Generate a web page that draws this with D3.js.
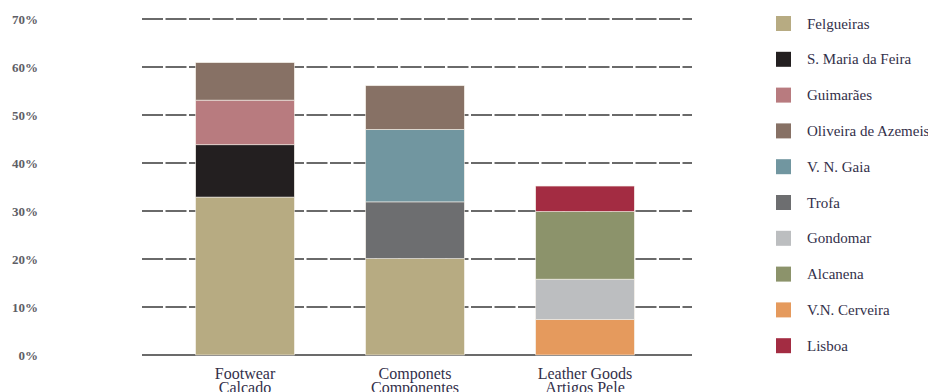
<!DOCTYPE html>
<html>
<head>
<meta charset="utf-8">
<script src="https://cdn.jsdelivr.net/npm/d3@7"></script>
<style>
  body { margin: 0; background: #fff; }
  svg text { font-family: "Liberation Serif", "DejaVu Serif", serif; }
</style>
</head>
<body>
<div id="chart"></div>
<script>
var width = 928;
var height = 392;

// categories (two line labels)
var categories = ["Footwear", "Componets", "Leather Goods"];
var categoryLabels = [["Footwear", "Calcado"], ["Componets", "Componentes"], ["Leather Goods", "Artigos Pele"]];

// legend order
var regions = ["Felgueiras", "S. Maria da Feira", "Guimarães", "Oliveira de Azemeis", "V. N. Gaia",
               "Trofa", "Gondomar", "Alcanena", "V.N. Cerveira", "Lisboa"];
var colors = ["#b7ab82", "#231f20", "#b87b7f", "#877165", "#7196a0",
              "#6d6e70", "#bcbec0", "#8c936b", "#e59a5d", "#a32c42"];

// stacked segments per category, bottom to top, in percent
var footwear = [["Felgueiras", 32.9], ["S. Maria da Feira", 10.9], ["Guimarães", 9.3], ["Oliveira de Azemeis", 7.8]];
var componets = [["Felgueiras", 20.1], ["Trofa", 11.8], ["V. N. Gaia", 15.1], ["Oliveira de Azemeis", 9.1]];
var leather = [["V.N. Cerveira", 7.4], ["Gondomar", 8.4], ["Alcanena", 14.1], ["Lisboa", 5.3]];

var yTicks = [0, 10, 20, 30, 40, 50, 60, 70];

var stacks = [footwear, componets, leather];

var color = d3.scaleOrdinal().domain(regions).range(colors);

var x = d3.scaleBand()
    .domain(categories)
    .range([160, 670])
    .paddingInner(0.42)
    .paddingOuter(0.21);

var y = d3.scaleLinear()
    .domain([0, 70])
    .range([355, 19]);

var svg = d3.select("#chart")
    .append("svg")
    .attr("width", width)
    .attr("height", height);

// gridlines
svg.append("g")
    .selectAll("line")
    .data(yTicks)
    .enter()
    .append("line")
    .attr("x1", 142)
    .attr("x2", 692)
    .attr("y1", (d) => y(d))
    .attr("y2", (d) => y(d))
    .attr("stroke", "#3a3a3a")
    .attr("stroke-width", 1.6)
    .attr("stroke-dasharray", (d) => d === 0 ? null : "21,2.5");

// y labels
svg.append("g")
    .selectAll("text")
    .data(yTicks)
    .enter()
    .append("text")
    .attr("x", 38)
    .attr("y", (d) => y(d) + 5)
    .attr("text-anchor", "end")
    .style("font-size", "13px")
    .style("font-weight", "bold")
    .style("fill", "#5e5e66")
    .text((d) => d + "%");

// bars
stacks.forEach(function(stack, i) {
    var cat = categories[i];
    var base = 0;
    var segs = stack.map(function(s) {
        var seg = {name: s[0], y0: base, y1: base + s[1]};
        base += s[1];
        return seg;
    });
    svg.append("g")
        .selectAll("rect")
        .data(segs)
        .enter()
        .append("rect")
        .attr("x", x(cat))
        .attr("width", x.bandwidth())
        .attr("y", (d) => y(d.y1))
        .attr("height", (d) => y(d.y0) - y(d.y1))
        .attr("fill", (d) => color(d.name))
        .attr("stroke", "#f3efe6")
        .attr("stroke-width", 0.6);
});

// x labels, one text per line
categories.forEach(function(cat, i) {
    svg.append("g")
        .selectAll("text")
        .data(categoryLabels[i])
        .enter()
        .append("text")
        .attr("x", x(cat) + x.bandwidth() / 2)
        .attr("y", (d, j) => 379 + j * 14)
        .attr("text-anchor", "middle")
        .style("font-size", "16px")
        .style("fill", "#33304a")
        .text((d) => d);
});

// legend
var leg = svg.append("g")
    .selectAll("g")
    .data(regions)
    .enter()
    .append("g")
    .attr("transform", (d, i) => "translate(776," + (24 + i * 35.8) + ")");

leg.append("rect")
    .attr("x", 0)
    .attr("y", -8)
    .attr("width", 15)
    .attr("height", 15)
    .attr("fill", (d) => color(d));

leg.append("text")
    .attr("x", 31)
    .attr("y", 4.5)
    .style("font-size", "15px")
    .style("fill", "#33304a")
    .text((d) => d);
</script>
</body>
</html>
